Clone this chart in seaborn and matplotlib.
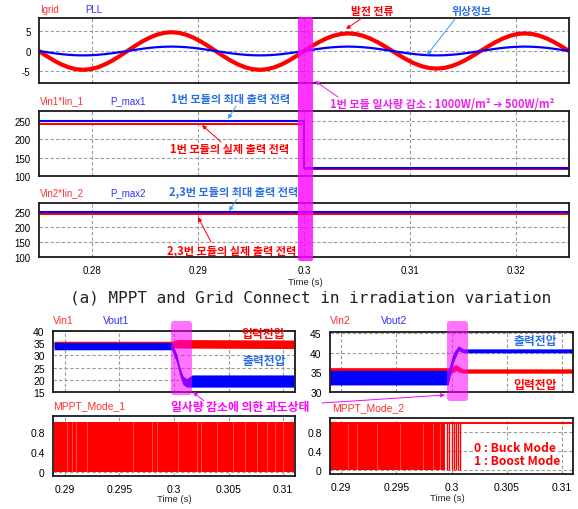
import numpy as np
import matplotlib
matplotlib.use('Agg')
import matplotlib.pyplot as plt
import seaborn as sns
from matplotlib.patches import FancyBboxPatch

sns.set_theme(style='white')
plt.rcParams['font.family'] = ['Liberation Sans', 'Noto Sans CJK KR', 'DejaVu Sans']
plt.rcParams['axes.unicode_minus'] = False

# ---- data ----
# (a) grid current and PLL, samples every 15 deg of a 60 Hz cycle
igrid = [0, -1.22, -2.35, -3.32, -4.07, -4.54, -4.7, -4.54, -4.07, -3.32, -2.35, -1.22,
         0, 1.22, 2.35, 3.32, 4.07, 4.54, 4.7, 4.54, 4.07, 3.32, 2.35, 1.22,
         0, -1.22, -2.35, -3.32, -4.07, -4.54, -4.7, -4.54, -4.07, -3.32, -2.35, -1.22,
         0, 1.14, 2.2, 3.11, 3.81, 4.25, 4.4, 4.25, 3.81, 3.11, 2.2, 1.14,
         0, -1.14, -2.2, -3.11, -3.81, -4.25, -4.4, -4.25, -3.81, -3.11, -2.2, -1.14,
         0, 1.14, 2.2, 3.11, 3.81, 4.25, 4.4, 4.25, 3.81, 3.11, 2.2, 1.14,
         0]
pll = [0, -0.28, -0.55, -0.78, -0.95, -1.06, -1.1, -1.06, -0.95, -0.78, -0.55, -0.28,
       0, 0.28, 0.55, 0.78, 0.95, 1.06, 1.1, 1.06, 0.95, 0.78, 0.55, 0.28,
       0, -0.28, -0.55, -0.78, -0.95, -1.06, -1.1, -1.06, -0.95, -0.78, -0.55, -0.28,
       0, 0.28, 0.55, 0.78, 0.95, 1.06, 1.1, 1.06, 0.95, 0.78, 0.55, 0.28,
       0, -0.28, -0.55, -0.78, -0.95, -1.06, -1.1, -1.06, -0.95, -0.78, -0.55, -0.28,
       0, 0.28, 0.55, 0.78, 0.95, 1.06, 1.1, 1.06, 0.95, 0.78, 0.55, 0.28,
       0]
t_grid = np.linspace(0.275, 0.325, len(igrid))

# module 1 power (step at 0.3 s)
p1_t = [0.275, 0.3, 0.3, 0.325]
pmax1 = [250, 250, 122, 122]
pin1_hi = [246, 246, 120, 120]
pin1_lo = [240, 240, 116, 116]

# modules 2,3 power
p2_t = [0.275, 0.325]
pmax2 = [251, 251]
pin2_hi = [247, 247]
pin2_lo = [241, 241]

# (b) converter 1 voltages (noise band lo/hi)
vin1_t = [0.289, 0.2998, 0.3003, 0.311]
vin1_hi = [35.8, 35.8, 36.5, 36.3]
vin1_lo = [33.2, 33.2, 33.0, 32.8]
vout1_t = [0.289, 0.2998, 0.30025, 0.30055, 0.30083, 0.30117, 0.30165, 0.311]
vout1_hi = [35.3, 35.3, 30.5, 25.0, 21.5, 20.5, 22.0, 22.0]
vout1_lo = [32.3, 32.3, 27.0, 21.5, 18.0, 17.0, 17.0, 17.0]

# converter 2 voltages
vin2_t = [0.289, 0.2997, 0.3004, 0.301, 0.311]
vin2_hi = [36.2, 36.2, 37.0, 35.9, 35.9]
vin2_lo = [34.3, 34.3, 35.5, 34.8, 34.8]
vout2_t = [0.289, 0.2997, 0.30017, 0.30062, 0.30108, 0.311]
vout2_hi = [35.5, 35.5, 40.0, 41.8, 41.0, 41.0]
vout2_lo = [31.8, 31.8, 37.5, 40.5, 40.0, 40.0]

# MPPT mode signals
mode1_t = [0.289, 0.311]
mode1 = [1, 1]
mode1_gaps = [0.29015, 0.29061, 0.29101, 0.29205, 0.29627, 0.29795, 0.29841, 0.30039,
              0.30208, 0.3025, 0.30392, 0.30544, 0.30651, 0.30759, 0.30851, 0.30927, 0.31003]
mode2_t = [0.289, 0.29942, 0.29942, 0.311]
mode2_lo = [0, 0, 1, 1]
mode2_hi = [1, 1, 1, 1]
mode2_gaps = [0.29066, 0.29142, 0.29323, 0.29534, 0.29745, 0.29836, 0.29897]
mode2_pulses = [0.29957, 0.29981, 0.30003, 0.30024, 0.30042, 0.30063, 0.30078]

top_xticks = [0.28, 0.29, 0.3, 0.31, 0.32]
top_xlabels = ['0.28', '0.29', '0.3', '0.31', '0.32']
bot_xticks = [0.29, 0.295, 0.3, 0.305, 0.31]
bot_xlabels = ['0.29', '0.295', '0.3', '0.305', '0.31']

RED = '#ff0000'
BLUE = '#0000ff'
TXT_BLUE = '#2a6fe0'
MAG = '#ff00ff'
KR = ['Noto Sans CJK KR', 'DejaVu Sans']

W, H = 578, 510
fig = plt.figure(figsize=(W / 100, H / 100), dpi=100)
fig.patch.set_facecolor('white')


def add_ax(x0, y0, x1, y1):
    return fig.add_axes([x0 / W, 1 - y1 / H, (x1 - x0) / W, (y1 - y0) / H])


def style(ax, xlim, xticks, xlabels, ylim, yticks, ylabels, size, show_x):
    ax.set_xlim(xlim)
    ax.set_ylim(ylim)
    ax.set_xticks(xticks)
    ax.set_yticks(yticks)
    ax.set_xticklabels(xlabels)
    ax.set_yticklabels(ylabels)
    ax.set_xlabel('')
    ax.set_ylabel('')
    ax.set_facecolor('white')
    ax.grid(True, color='#9a9a9a', linestyle=(0, (3, 2)), linewidth=0.8)
    ax.set_axisbelow(True)
    for s in ax.spines.values():
        s.set_color('#1a1a1a')
        s.set_linewidth(1.3)
    ax.tick_params(length=0, labelsize=size, pad=6, colors='black', labelbottom=show_x)


# --- panel 1: Igrid / PLL ---
ax1 = add_ax(39, 19, 569, 84)
sns.lineplot(x=t_grid, y=igrid, ax=ax1, color=RED, linewidth=3.0, estimator=None, sort=False)
sns.lineplot(x=t_grid, y=pll, ax=ax1, color=BLUE, linewidth=1.6, estimator=None, sort=False)
style(ax1, (0.275, 0.325), top_xticks, top_xlabels, (-8, 8.25), [-5, 0, 5],
      ['-5', '0', '5'], 7, False)

# --- panel 2: module 1 power ---
ax2 = add_ax(39, 112, 569, 177)
ax2.fill_between(p1_t, pin1_lo, pin1_hi, color=RED, linewidth=0)
sns.lineplot(x=p1_t, y=pmax1, ax=ax2, color=BLUE, linewidth=1.5, estimator=None, sort=False)
style(ax2, (0.275, 0.325), top_xticks, top_xlabels, (100, 278), [100, 150, 200, 250],
      ['100', '150', '200', '250'], 7, False)

# --- panel 3: modules 2,3 power ---
ax3 = add_ax(39, 204, 569, 258)
ax3.fill_between(p2_t, pin2_lo, pin2_hi, color=RED, linewidth=0)
sns.lineplot(x=p2_t, y=pmax2, ax=ax3, color=BLUE, linewidth=1.5, estimator=None, sort=False)
style(ax3, (0.275, 0.325), top_xticks, top_xlabels, (100, 281), [100, 150, 200, 250],
      ['100', '150', '200', '250'], 7, True)
ax3.tick_params(axis='x', pad=6)

# --- panel 4: Vin1 / Vout1 ---
ax4 = add_ax(53, 332, 295, 393)
ax4.fill_between(vin1_t, vin1_lo, vin1_hi, color=RED, linewidth=0)
ax4.fill_between(vout1_t, vout1_lo, vout1_hi, color=BLUE, linewidth=0)
style(ax4, (0.2889, 0.3111), bot_xticks, bot_xlabels, (15, 40), [15, 20, 25, 30, 35, 40],
      ['15', '20', '25', '30', '35', '40'], 7.5, False)

# --- panel 5: MPPT mode 1 ---
ax5 = add_ax(53, 417, 295, 477)
ax5.fill_between(mode1_t, 0, mode1, color=RED, linewidth=0)
ax5.vlines(mode1_gaps, 0, 1, color='white', linewidth=0.6, alpha=0.35)
style(ax5, (0.2889, 0.3111), bot_xticks, bot_xlabels, (-0.07, 1.11), [0, 0.4, 0.8],
      ['0', '0.4', '0.8'], 7.5, True)

# --- panel 6: Vin2 / Vout2 ---
ax6 = add_ax(330, 333, 573, 393)
ax6.fill_between(vin2_t, vin2_lo, vin2_hi, color=RED, linewidth=0)
ax6.fill_between(vout2_t, vout2_lo, vout2_hi, color=BLUE, linewidth=0)
style(ax6, (0.289, 0.311), bot_xticks, bot_xlabels, (30, 45.3), [30, 35, 40, 45],
      ['30', '35', '40', '45'], 7.5, False)

# --- panel 7: MPPT mode 2 ---
ax7 = add_ax(330, 419, 573, 475)
ax7.fill_between(mode2_t, mode2_lo, mode2_hi, color=RED, linewidth=0)
ax7.vlines(mode2_gaps, 0, 1, color='white', linewidth=0.6, alpha=0.35)
ax7.vlines(mode2_pulses, 0, 1, color=RED, linewidth=1.0)
sns.lineplot(x=mode2_t, y=mode2_hi, ax=ax7, color=RED, linewidth=1.4, estimator=None, sort=False)
style(ax7, (0.289, 0.311), bot_xticks, bot_xlabels, (-0.08, 1.1), [0, 0.4, 0.8],
      ['0', '0.4', '0.8'], 7.5, True)

# ---- overlay for labels, callouts and highlight boxes (pixel coords) ----
ov = fig.add_axes([0, 0, 1, 1], zorder=10)
ov.set_xlim(0, W)
ov.set_ylim(H, 0)
ov.axis('off')


def lab(x, y, s, c, size=7, **kw):
    ov.text(x, y, s, color=c, fontsize=size, ha='left', va='center', **kw)


def kr(x, y, s, c, size=8, ha='center', **kw):
    ov.text(x, y, s, color=c, fontsize=size, ha=ha, va='center', family=KR,
            fontweight='bold', **kw)


def arrow(x0, y0, x1, y1, c, lw=0.7):
    ov.annotate('', xy=(x1, y1), xytext=(x0, y0),
                arrowprops=dict(arrowstyle='-|>', color=c, lw=lw, mutation_scale=6,
                                shrinkA=0, shrinkB=0))


# signal names
lab(40, 10, 'Igrid', '#ff3030')
lab(85, 10, 'PLL', '#3030ff')
lab(40, 101, 'Vin1*Iin_1', '#ff3030')
lab(110, 101, 'P_max1', '#3030ff')
lab(40, 193, 'Vin2*Iin_2', '#ff3030')
lab(110, 193, 'P_max2', '#3030ff')
lab(53, 321, 'Vin1', '#ff3030', 7.5)
lab(103, 321, 'Vout1', '#3030ff', 7.5)
lab(53, 406, 'MPPT_Mode_1', '#ff3030', 7.5)
lab(330, 321, 'Vin2', '#ff3030', 7.5)
lab(381, 321, 'Vout2', '#3030ff', 7.5)
lab(332, 408, 'MPPT_Mode_2', '#ff3030', 7.5)

# top highlight band
ov.add_patch(FancyBboxPatch((298, 18), 15, 244, boxstyle='round,pad=0,rounding_size=2',
                            fc=MAG, ec='none', alpha=0.8))

# top callouts
kr(372, 12, '발전 전류', RED, 7.8)
arrow(362, 19, 346, 30, RED)
kr(471, 12, '위상정보', TXT_BLUE, 7.8)
arrow(455, 20, 427, 56, '#3399ff')
kr(231, 100, '1번 모듈의 최대 출력 전력', TXT_BLUE)
arrow(236, 107, 228, 120, '#3399ff')
kr(230, 150, '1번 모듈의 실제 출력 전력', RED)
arrow(221, 143, 202, 126, RED)
kr(234, 192, '2,3번 모듈의 최대 출력 전력', TXT_BLUE)
arrow(237, 200, 229, 212, '#3399ff')
kr(232, 251, '2,3번 모듈의 실제 출력 전력', RED)
arrow(211, 243, 198, 218, RED)
kr(330, 104, '1번 모듈 일사량 감소 : 1000W/m² ➔ 500W/m²', '#ee22ee', 8, ha='left')
arrow(338, 98, 315, 82, '#ee22ee')

ov.text(305, 283, 'Time (s)', fontsize=6.8, ha='center', va='center')
ov.text(311, 298, '(a) MPPT and Grid Connect in irradiation variation', fontsize=11.5,
        ha='center', va='center', family='DejaVu Sans Mono', color='#222222')

# bottom highlight boxes
ov.add_patch(FancyBboxPatch((171, 322), 21, 74, boxstyle='round,pad=0,rounding_size=3',
                            fc=MAG, ec='none', alpha=0.55))
ov.add_patch(FancyBboxPatch((447, 322), 21, 80, boxstyle='round,pad=0,rounding_size=3',
                            fc=MAG, ec='none', alpha=0.55))

kr(263, 335, '입력전압', RED, 8.5)
kr(264, 362, '출력전압', TXT_BLUE, 8.5)
kr(535, 342, '출력전압', TXT_BLUE, 8.5)
kr(535, 386, '입력전압', RED, 8.5)
kr(240, 408, '일사량 감소에 의한 과도상태', MAG, 8.5)
arrow(204, 402, 193, 393, MAG)
arrow(322, 404, 445, 396, MAG)

kr(474, 449, '0 : Buck Mode', RED, 8.7, ha='left',
   bbox=dict(fc='white', ec='none', pad=1.0))
kr(474, 462, '1 : Boost Mode', RED, 8.7, ha='left',
   bbox=dict(fc='white', ec='none', pad=1.0))

ov.text(174, 500, 'Time (s)', fontsize=6.8, ha='center', va='center')
ov.text(447, 499, 'Time (s)', fontsize=6.8, ha='center', va='center')

fig.savefig('out.png', dpi=100, facecolor='white')
